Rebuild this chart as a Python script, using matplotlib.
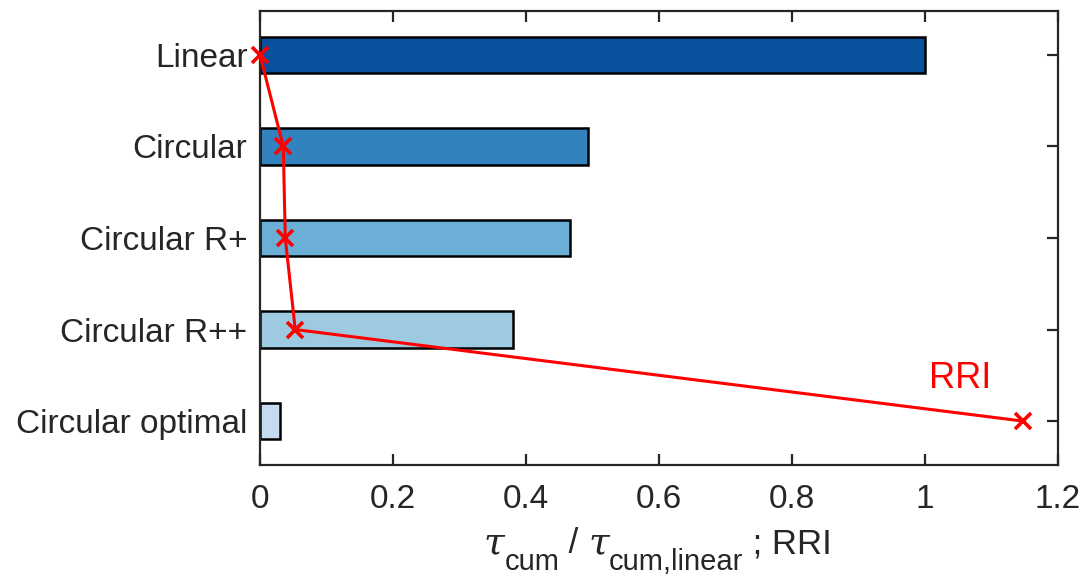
import matplotlib
matplotlib.use("Agg")
import matplotlib.pyplot as plt
from matplotlib.ticker import FuncFormatter
from matplotlib.transforms import IdentityTransform

plt.rcParams['font.family'] = ['Liberation Sans', 'DejaVu Sans']

categories = ["Linear", "Circular", "Circular R+", "Circular R++", "Circular optimal"]
tau_ratio = [1.0, 0.493, 0.466, 0.380, 0.030]
rri = [0.0, 0.035, 0.038, 0.053, 1.147]
bar_colors = ["#08519c", "#3182bd", "#6baed6", "#9ecae1", "#c6dbef"]
xticks = [0, 0.2, 0.4, 0.6, 0.8, 1.0, 1.2]

W, H = 1088, 580
fig = plt.figure(figsize=(W/100, H/100), dpi=100)
ax = fig.add_axes([260/W, 1-465/H, (1058-260)/W, (465-11)/H])

ypos = list(range(len(categories)))
ax.barh(ypos, tau_ratio, height=0.4, color=bar_colors, edgecolor='black', linewidth=1.8, zorder=2)
ax.plot(rri, ypos, color='#ff0000', marker='x', markersize=12, markeredgewidth=2.6,
        linewidth=2.2, zorder=3, clip_on=False)
ax.text(1.053, 3.53, "RRI", color='#ff0000', fontsize=26, ha='center', va='center', zorder=4)

ax.set_xlim(0, 1.2)
ax.set_ylim(4.48, -0.48)
ax.set_yticks(ypos)
ax.set_yticklabels(categories, fontsize=24.6)
ax.set_xticks(xticks)
ax.xaxis.set_major_formatter(FuncFormatter(lambda v, p: f"{v:g}"))

for s in ax.spines.values():
    s.set_color('#262626')
    s.set_linewidth(1.6)
ax.tick_params(axis='both', direction='in', length=8, width=1.6, color='#262626',
               labelcolor='#262626', labelsize=24, top=True, right=True)
ax.tick_params(axis='x', pad=14)
ax.tick_params(axis='y', pad=9)

# x-axis label built from pieces (MATLAB-style large subscripts)
tau_kw = dict(family='DejaVu Serif', style='italic', fontsize=27)
pieces = [
    ("\u03c4", tau_kw, 0),
    ("cum", dict(fontsize=21), -17),
    (" / ", dict(fontsize=25), 0),
    ("\u03c4", tau_kw, 0),
    ("cum,linear", dict(fontsize=21), -17),
    (" ; RRI", dict(fontsize=25), 0),
]
renderer = fig.canvas.get_renderer()
baseline = H - 553
texts = []
x = 0.0
for s, kw, dy in pieces:
    t = fig.text(0, 0, s, color='#262626', ha='left', va='baseline',
                 transform=IdentityTransform(), **kw)
    t.set_position((x, baseline + dy))
    w = t.get_window_extent(renderer).width
    texts.append((t, x, dy))
    x += w
total = x
x0 = 658 - total / 2
for t, xx, dy in texts:
    t.set_position((x0 + xx, baseline + dy))

fig.savefig("out.png", dpi=100)
